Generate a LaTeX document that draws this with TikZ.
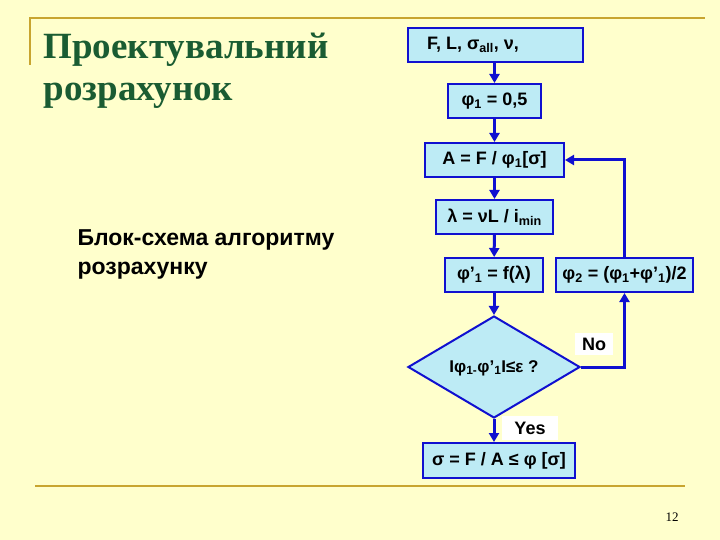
\documentclass[tikz,border=0pt]{standalone}
\usepackage{fontspec}
\setmainfont{Liberation Sans}
\newfontfamily\titlefont{Liberation Serif}
\usetikzlibrary{shapes.geometric,arrows.meta}
\definecolor{bg}{HTML}{FFFFCC}
\definecolor{gold}{HTML}{C8A530}
\definecolor{boxfill}{HTML}{BDEBF5}
\definecolor{lineblue}{HTML}{1010D0}
\definecolor{ttl}{HTML}{1A5C32}
\tikzset{
  blk/.style={draw=lineblue,fill=boxfill,line width=2pt,inner sep=0pt,font=\bfseries\fontsize{18}{18}\selectfont},
  flow/.style={draw=lineblue,line width=3pt,-{Triangle[length=9pt,width=10pt]}},
  lbl/.style={fill=white,inner sep=0pt,font=\bfseries\fontsize{18}{18}\selectfont},
}
\begin{document}
\begin{tikzpicture}[x=1pt,y=-1pt]
\fill[bg] (0,0) rectangle (720,540);
\useasboundingbox (0,0) rectangle (720,540);
\draw[gold,line width=1.5pt] (30,65) -- (30,18) -- (705,18);
\draw[gold,line width=1.5pt] (35,486) -- (685,486);
\node[anchor=north west,align=left,text=ttl,font=\titlefont\bfseries\fontsize{37}{42}\selectfont] (t) at (40,29) {Проектувальний\\розрахунок};
\node[anchor=north west,align=left,font=\bfseries\fontsize{23}{29}\selectfont] (s) at (74,226) {Блок-схема алгоритму\\розрахунку};
\node[font=\titlefont\fontsize{13}{13}\selectfont] (pg) at (672,517) {12};

\node[blk,minimum width=175pt,minimum height=34pt] (b1) at (495.5,45) {\hspace*{-45pt}F, L, σ\textsubscript{all}, ν,};
\node[blk,minimum width=93pt,minimum height=34pt] (b2) at (494.5,101) {φ\textsubscript{1} = 0,5};
\node[blk,minimum width=139pt,minimum height=34pt] (b3) at (494.5,160) {A = F / φ\textsubscript{1}[σ]};
\node[blk,minimum width=117pt,minimum height=34pt] (b4) at (494.5,217) {λ = νL / i\textsubscript{min}};
\node[blk,minimum width=98pt,minimum height=34pt] (b5) at (494,275) {φ'\textsubscript{1} = f(λ)};
\node[blk,minimum width=137pt,minimum height=34pt] (b6) at (624.5,275) {φ\textsubscript{2} = (φ\textsubscript{1}+φ'\textsubscript{1})/2};
\node[blk,diamond,aspect=1.7,minimum width=172pt,minimum height=102pt] (d) at (494,367) {};
\node[font=\bfseries\fontsize{17}{17}\selectfont] (dt) at (494,368) {Iφ\textsubscript{1-}φ'\textsubscript{1}I≤ε ?};
\node[blk,minimum width=152pt,minimum height=35pt] (b7) at (499,460.5) {σ = F / A ≤ φ [σ]};
\node[lbl,minimum width=38pt,minimum height=22pt] (no) at (594,344) {No};
\node[lbl,minimum width=56pt,minimum height=24pt] (yes) at (530,428) {Yes};

\draw[flow] (b1.south -| b2) -- (b2);
\draw[flow] (b2) -- (b3);
\draw[flow] (b3) -- (b4);
\draw[flow] (b4) -- (b5);
\draw[flow] (b5) -- (d);
\draw[flow] (d.south) -- (d.south |- b7.north);
\draw[flow] (d.east) -| (b6.south);
\draw[flow] (b6.north) |- (b3.east);
\end{tikzpicture}
\end{document}
